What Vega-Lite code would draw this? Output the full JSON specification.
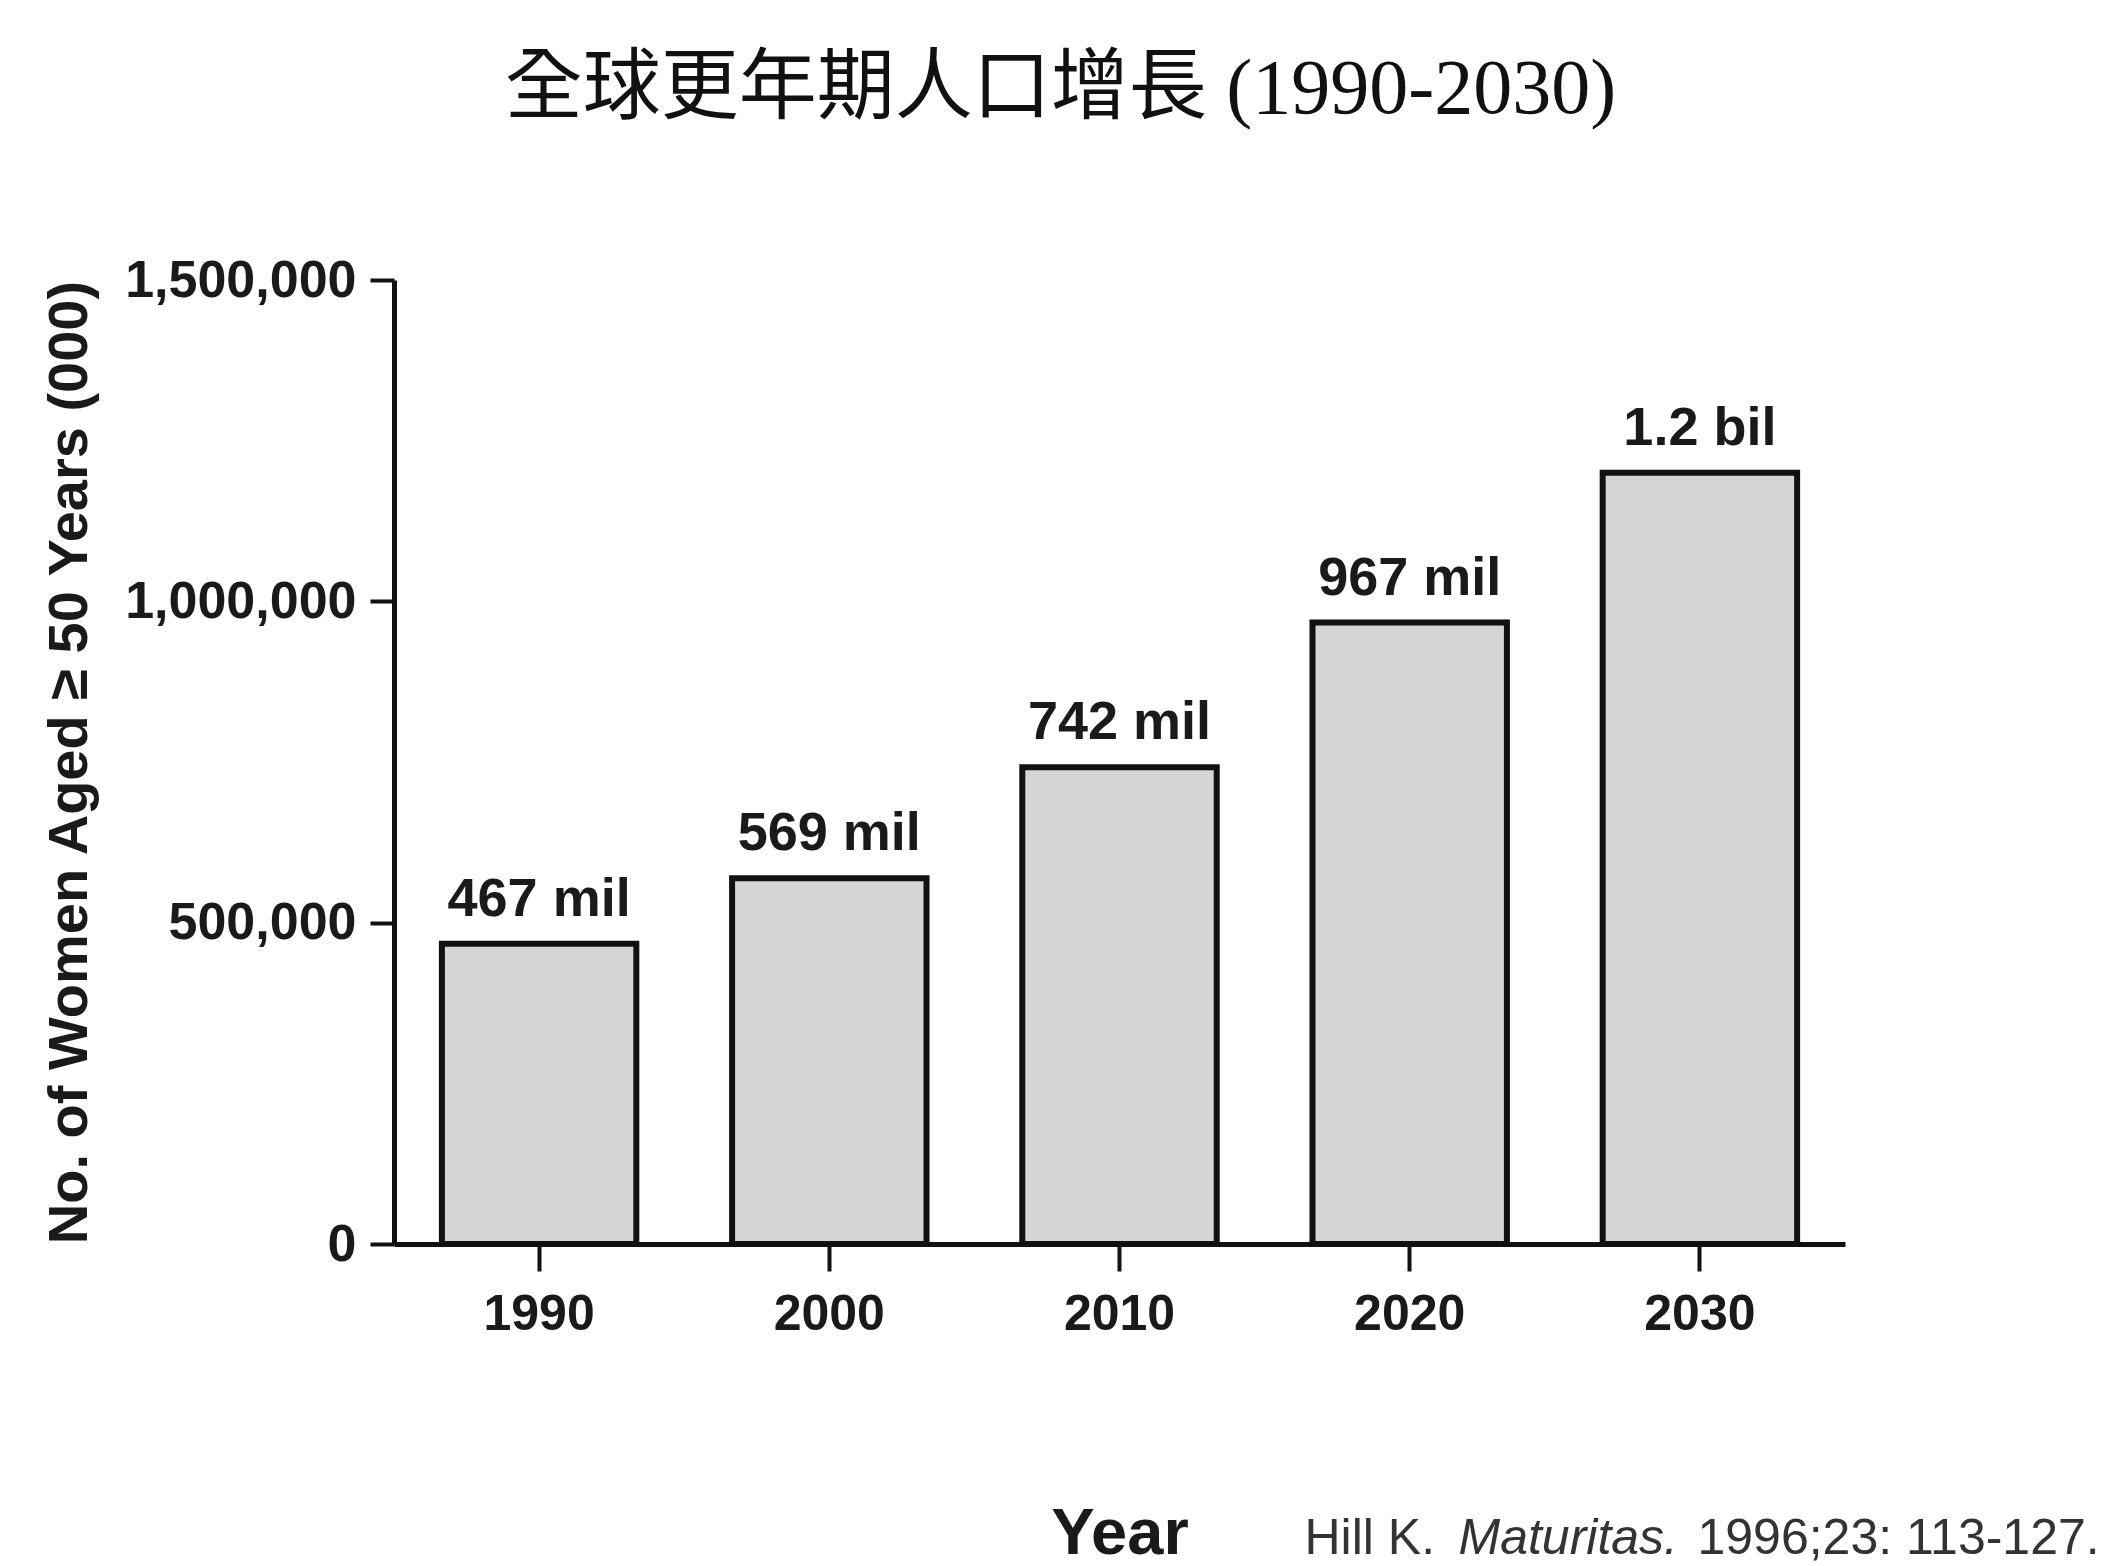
{
  "$schema": "https://vega.github.io/schema/vega-lite/v6.json",
  "autosize": {"type": "none"},
  "width": 1451,
  "height": 964,
  "padding": {"left": 394, "top": 280, "right": 264, "bottom": 322},
  "background": "white",
  "title": {
    "text": "全球更年期人口增長 (1990-2030)",
    "font": "Liberation Serif, Noto Sans CJK TC",
    "fontSize": 78,
    "fontWeight": "normal",
    "color": "#111111",
    "anchor": "middle",
    "frame": "group",
    "dx": -59,
    "offset": 125
  },
  "config": {
    "view": {"stroke": null},
    "font": "Liberation Sans",
    "axis": {
      "grid": false,
      "labelFont": "Liberation Sans",
      "labelFontSize": 50,
      "labelFontWeight": "bold",
      "labelColor": "#1a1a1a",
      "labelFlush": false,
      "labelOverlap": false,
      "labelLimit": 500,
      "tickWidth": 4,
      "tickColor": "#111111",
      "domainColor": "#111111",
      "domainWidth": 5,
      "titleFont": "Liberation Sans",
      "titleFontWeight": "bold",
      "titleColor": "#1a1a1a",
      "titleLimit": 2000
    },
    "axisX": {"labelAngle": 0, "labelPadding": 18, "tickSize": 27, "titleFontSize": 65, "titlePadding": 163},
    "axisY": {"labelPadding": 14, "labelFontSize": 52, "tickSize": 24, "titleFontSize": 56, "titlePadding": 96, "labelExpr": "format(datum.value, ',')"}
  },
  "data": {
    "values": [
      {"year": "1990", "women": 467000, "label": "467 mil"},
      {"year": "2000", "women": 569000, "label": "569 mil"},
      {"year": "2010", "women": 742000, "label": "742 mil"},
      {"year": "2020", "women": 967000, "label": "967 mil"},
      {"year": "2030", "women": 1200000, "label": "1.2 bil"}
    ]
  },
  "layer": [
    {
      "mark": {"type": "bar", "fill": "#d4d5d4", "stroke": "#111111", "strokeWidth": 6},
      "encoding": {
        "x": {"field": "year", "type": "nominal", "scale": {"paddingInner": 0.33, "paddingOuter": 0.165}, "axis": {"title": "Year"}},
        "y": {"field": "women", "type": "quantitative", "scale": {"domain": [0, 1500000], "nice": false}, "axis": {"title": "No. of Women Aged ≥ 50 Years  (000)", "values": [0, 500000, 1000000, 1500000], "format": ","}}
      }
    },
    {
      "mark": {"type": "text", "font": "Liberation Sans", "fontSize": 54, "fontWeight": "bold", "color": "#1a1a1a", "baseline": "alphabetic", "align": "center", "dy": -28},
      "encoding": {
        "x": {"field": "year", "type": "nominal", "scale": {"paddingInner": 0.33, "paddingOuter": 0.165}, "axis": {"title": "Year"}},
        "y": {"field": "women", "type": "quantitative", "scale": {"domain": [0, 1500000], "nice": false}, "axis": {"title": "No. of Women Aged ≥ 50 Years  (000)", "values": [0, 500000, 1000000, 1500000], "format": ","}},
        "text": {"field": "label"}
      }
    },
    {
      "data": {"values": [{"part": "Hill K."}]},
      "mark": {"type": "text", "font": "Liberation Sans", "fontSize": 50, "color": "#333333", "baseline": "alphabetic", "align": "left", "dx": -8},
      "encoding": {
        "x": {"datum": "2020", "type": "nominal", "bandPosition": 0, "scale": {"paddingInner": 0.33, "paddingOuter": 0.165}, "axis": {"title": "Year"}},
        "y": {"datum": -482000, "type": "quantitative", "scale": {"domain": [0, 1500000], "nice": false}, "axis": {"title": "No. of Women Aged ≥ 50 Years  (000)", "values": [0, 500000, 1000000, 1500000], "format": ","}},
        "text": {"field": "part"}
      }
    },
    {
      "data": {"values": [{"part": "Maturitas."}]},
      "mark": {"type": "text", "font": "Liberation Sans", "fontSize": 50, "fontStyle": "italic", "color": "#333333", "baseline": "alphabetic", "align": "left", "dx": 146},
      "encoding": {
        "x": {"datum": "2020", "type": "nominal", "bandPosition": 0, "scale": {"paddingInner": 0.33, "paddingOuter": 0.165}, "axis": {"title": "Year"}},
        "y": {"datum": -482000, "type": "quantitative", "scale": {"domain": [0, 1500000], "nice": false}, "axis": {"title": "No. of Women Aged ≥ 50 Years  (000)", "values": [0, 500000, 1000000, 1500000], "format": ","}},
        "text": {"field": "part"}
      }
    },
    {
      "data": {"values": [{"part": "1996;23: 113-127."}]},
      "mark": {"type": "text", "font": "Liberation Sans", "fontSize": 50, "color": "#333333", "baseline": "alphabetic", "align": "left", "dx": 385},
      "encoding": {
        "x": {"datum": "2020", "type": "nominal", "bandPosition": 0, "scale": {"paddingInner": 0.33, "paddingOuter": 0.165}, "axis": {"title": "Year"}},
        "y": {"datum": -482000, "type": "quantitative", "scale": {"domain": [0, 1500000], "nice": false}, "axis": {"title": "No. of Women Aged ≥ 50 Years  (000)", "values": [0, 500000, 1000000, 1500000], "format": ","}},
        "text": {"field": "part"}
      }
    }
  ]
}
